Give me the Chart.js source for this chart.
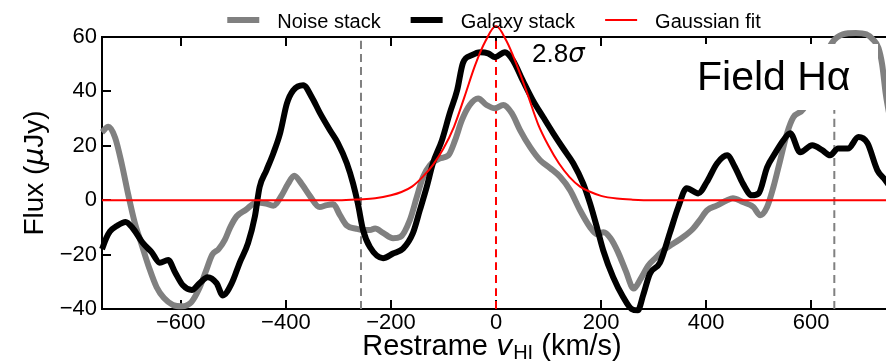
<!DOCTYPE html>
<html>
<head>
<meta charset="utf-8">
<script src="https://cdn.jsdelivr.net/npm/chart.js@4.4.1/dist/chart.umd.min.js"></script>
<style>
  html, body { margin: 0; padding: 0; background: #fff; overflow: hidden; }
  #wrap { width: 900px; height: 362px; }
</style>
</head>
<body>
<div id="wrap"><canvas id="spectrum" width="900" height="362"></canvas></div>
<script>
// restframe velocity (km/s) and flux (uJy)
const noiseVel = [-750, -738, -725, -712, -700, -688, -675, -660, -646, -632, -615, -598, -580, -565, -552, -540,
  -528, -516, -506, -494, -476, -456, -438, -424, -408, -396, -384, -370, -354, -336, -322, -310, -297, -284,
  -266, -252, -240, -230, -215, -196, -182, -164, -151, -139, -126, -107, -91, -78, -65, -50, -34, -18, -2, 14,
  30, 46, 65, 84, 103, 122, 141, 160, 179, 192, 205, 218, 232, 247, 262, 275, 290, 305, 318, 337, 356, 375, 388,
  402, 420, 440, 451, 470, 490, 503, 516, 528, 541, 554, 566, 585, 600, 620, 640, 660, 685, 705, 718, 728, 735,
  742, 750];
const noiseFlux = [25, 27, 23, 13, 2, -8, -16, -25, -32, -36, -38.5, -39, -37.5, -32.5, -26, -20,
  -18, -14.5, -10, -6, -3.5, -0.8, -1.2, -2, 1.8, 6, 9, 6, 1.5, -2.5, -1.8, -1.5, -5.5, -9.3,
  -10.5, -11, -11, -10.4, -12, -14, -13.5, -7.3, 1, 8.5, 12.8, 15.4, 16.4, 22, 29.4, 35, 37.4, 35, 33.8, 35,
  32, 25.7, 19.5, 14.7, 11.8, 8.6, 3.7, -3.7, -9.9, -12.5, -11.8, -14, -19, -26, -32.5, -29, -24, -21, -18.5, -16, -13.6, -10.5, -7.3,
  -3.7, -2, 0, 0.7, -0.7, -2.5, -5.5, -2.5, 4.8, 14.7, 24.6, 30.5, 33.5, 40, 50, 58, 61, 61.5, 61, 59, 56, 50,
  39, 30];

const galaxyVel = [-750, -742, -735, -722, -705, -691, -672, -656, -640, -624, -611, -596, -579, -564, -549, -532,
  -520, -503, -488, -472, -459, -450, -437, -424, -411, -398, -386, -367, -351, -335, -316, -301, -284, -272,
  -263, -253, -240, -215, -196, -177, -158, -145, -132, -120, -103, -88, -74, -63, -46, -30, -15, -2, 17, 32,
  51, 70, 90, 109, 128, 147, 166, 179, 192, 204, 223, 242, 258, 270, 280, 293, 312, 331, 347, 363, 385, 401,
  421, 440, 455, 470, 487, 500, 516, 531, 547, 560, 579, 602, 621, 636, 651, 670, 690, 707, 726, 741, 750];
const galaxyFlux = [-18, -14, -11.5, -9.5, -8, -10.4, -15.8, -19, -23, -22, -26.5, -31.3, -33, -30.5, -28.3, -30.5,
  -35, -30.5, -23, -15.8, -6, 4.8, 11, 17.2, 24.6, 35.6, 40.4, 42.3, 38, 32, 25.7, 21, 13.6, 6.1,
  -1.2, -11, -17.2, -21.3, -19.6, -17.8, -12, -3.7, 4.8, 13.6, 22, 32, 40.4, 50.4, 53.3, 54.4, 54, 52.6, 54.4, 51.5,
  44, 36.8, 30.5, 24.6, 19, 13.6, 6.1, -1.2, -9.9, -18.4, -28.3, -35.6, -40, -40.5, -35, -27, -23, -12, -2.5, 4.4, 2.5, 6.6,
  13.6, 16.5, 12.1, 6.1, 1.8, 2.5, 12.1, 17.2, 22, 24.6, 17.6, 20.2, 18.4, 16.5, 19, 19, 23.2, 21, 11, 7.4, 5];

const fitVel = [-750, -300, -260, -230, -200, -180, -160, -140, -120, -100, -80, -60, -40, -20, 0,
  20, 40, 60, 80, 100, 120, 140, 160, 180, 200, 230, 260, 300, 750];
const fitFlux = [0, 0, 0.3, 0.7, 1.8, 3, 5, 8.5, 13, 19, 27, 38, 49.5, 58.5, 64,
  58.5, 49.5, 39, 28, 20, 13.5, 8.5, 5, 3, 1.6, 0.6, 0.2, 0, 0];

const edgeVel = [-257, 644];   // grey dashed markers
const centreVel = [0];         // red dashed marker
const xTicks = [-600, -400, -200, 0, 200, 400, 600];
const yTicks = [-40, -20, 0, 20, 40, 60];
const xRange = [-750, 750];
const yRange = [-40, 60];

const FONT = '"Liberation Sans", Arial, sans-serif';
const MATH = '"DejaVu Sans", sans-serif';

const toPoints = (xs, ys) => xs.map((v, i) => ({x: v, y: ys[i]}));
const vline = (v, colour) => ({
  label: '',
  data: [{x: v, y: yRange[0]}, {x: v, y: yRange[1]}],
  borderColor: colour,
  borderWidth: 2,
  borderDash: [8, 5],
  order: 4
});
const minus = v => (v < 0 ? '\u2212' + Math.abs(v) : String(v));

// text parts drawn one after another, so italics / subscripts sit inline
function drawParts(ctx, parts, x, y) {
  let cx = x;
  parts.forEach(p => {
    ctx.font = p.font;
    ctx.fillText(p.text, cx, y + (p.dy || 0));
    cx += ctx.measureText(p.text).width;
  });
}
function partsWidth(ctx, parts) {
  return parts.reduce((w, p) => { ctx.font = p.font; return w + ctx.measureText(p.text).width; }, 0);
}

const decorations = {
  id: 'decorations',
  afterDatasetsDraw(chart) {
    const ctx = chart.ctx;
    ctx.save();
    // label box, covers the curves like the original
    ctx.fillStyle = '#fff';
    ctx.fillRect(676, 44, 202, 66);
    ctx.fillStyle = '#000';
    ctx.textBaseline = 'alphabetic';
    ctx.font = '41px ' + FONT;
    ctx.fillText('Field H\u03b1', 697, 90);

    drawParts(ctx, [
      {text: '2.8', font: '26px ' + FONT},
      {text: '\u03c3', font: 'italic 26px ' + MATH}
    ], 532, 62);
    ctx.restore();
  },
  afterDraw(chart) {
    const ctx = chart.ctx;
    const area = chart.chartArea;
    ctx.save();
    ctx.textBaseline = 'alphabetic';

    // legend
    ctx.font = '20px ' + FONT;
    const items = chart.data.datasets.filter(d => d.label);
    const sample = 32, gap = 18, spacing = 30;
    const widths = items.map(d => sample + gap + ctx.measureText(d.label).width);
    const total = widths.reduce((a, b) => a + b, 0) + spacing * (items.length - 1);
    let lx = 494 - total / 2;
    items.forEach((d, i) => {
      ctx.strokeStyle = d.borderColor;
      ctx.lineWidth = d.borderWidth;
      ctx.beginPath();
      ctx.moveTo(lx, 20);
      ctx.lineTo(lx + sample, 20);
      ctx.stroke();
      ctx.fillStyle = '#000';
      ctx.fillText(d.label, lx + sample + gap, 28);
      lx += widths[i] + spacing;
    });

    // x axis title
    const xParts = [
      {text: 'Restrame ', font: '29px ' + FONT},
      {text: 'v', font: 'italic 29px ' + MATH},
      {text: 'HI', font: '20px ' + FONT, dy: 4},
      {text: ' (km/s)', font: '29px ' + FONT}
    ];
    const xw = partsWidth(ctx, xParts);
    drawParts(ctx, xParts, (area.left + area.right) / 2 - 4 - xw / 2, 355);

    // y axis title
    const yParts = [
      {text: 'Flux (', font: '28px ' + FONT},
      {text: '\u03bc', font: 'italic 28px ' + MATH},
      {text: 'Jy)', font: '28px ' + FONT}
    ];
    const yw = partsWidth(ctx, yParts);
    ctx.translate(43, (area.top + area.bottom) / 2);
    ctx.rotate(-Math.PI / 2);
    drawParts(ctx, yParts, -yw / 2, 0);
    ctx.restore();
  }
};

const axisGrid = {drawOnChartArea: false, tickLength: -9, color: '#000', lineWidth: 2};
const axisBorder = {color: '#000', width: 2};

new Chart(document.getElementById('spectrum').getContext('2d'), {
  type: 'line',
  data: {
    datasets: [
      {label: 'Noise stack', data: toPoints(noiseVel, noiseFlux), borderColor: '#808080', borderWidth: 6, order: 3},
      {label: 'Galaxy stack', data: toPoints(galaxyVel, galaxyFlux), borderColor: '#000000', borderWidth: 6, order: 2},
      {label: 'Gaussian fit', data: toPoints(fitVel, fitFlux), borderColor: '#ff0000', borderWidth: 2, order: 1},
      ...edgeVel.map(v => vline(v, '#808080')),
      ...centreVel.map(v => vline(v, '#ff0000'))
    ]
  },
  options: {
    responsive: false,
    animation: false,
    events: [],
    devicePixelRatio: 1,
    layout: {padding: {left: 0, right: 10, top: 0, bottom: 0}},
    elements: {
      point: {radius: 0},
      line: {cubicInterpolationMode: 'monotone', borderJoinStyle: 'round', fill: false}
    },
    datasets: {line: {clip: false}},
    plugins: {legend: {display: false}, tooltip: {enabled: false}},
    scales: {
      x: {
        type: 'linear', position: 'bottom', min: xRange[0], max: xRange[1],
        afterBuildTicks: s => { s.ticks = xTicks.map(v => ({value: v})); },
        afterFit: s => { s.height = 53; },
        ticks: {color: '#000', font: {family: FONT, size: 22}, padding: 10, maxRotation: 0, callback: minus},
        grid: axisGrid, border: axisBorder
      },
      x2: {
        type: 'linear', axis: 'x', position: 'top', min: xRange[0], max: xRange[1],
        afterBuildTicks: s => { s.ticks = xTicks.map(v => ({value: v})); },
        afterFit: s => { s.height = 37; },
        ticks: {display: false},
        grid: axisGrid, border: axisBorder
      },
      y: {
        type: 'linear', position: 'left', min: yRange[0], max: yRange[1],
        afterBuildTicks: s => { s.ticks = yTicks.map(v => ({value: v})); },
        afterFit: s => { s.width = 102; },
        ticks: {color: '#000', font: {family: FONT, size: 22}, padding: 14, callback: minus},
        grid: axisGrid, border: axisBorder
      }
    }
  },
  plugins: [decorations]
});
</script>
</body>
</html>
